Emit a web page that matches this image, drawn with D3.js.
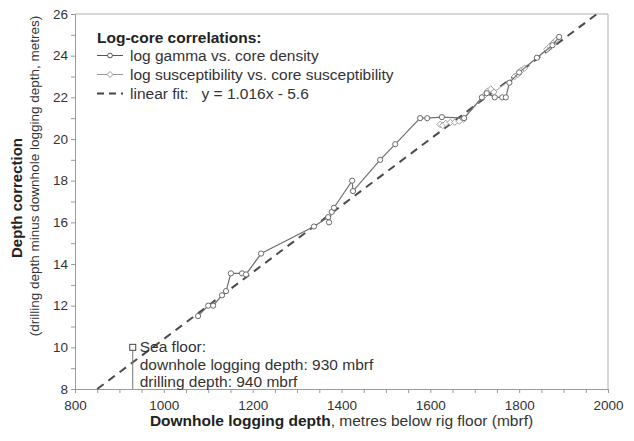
<!DOCTYPE html>
<html>
<head>
<meta charset="utf-8">
<script src="https://cdn.jsdelivr.net/npm/d3@7/dist/d3.min.js"></script>
<style>
  html, body { margin: 0; padding: 0; background: #fff; }
  svg { display: block; font-family: "Liberation Sans", Arial, sans-serif; }
</style>
</head>
<body>
<svg id="chart" width="634" height="441"></svg>
<script>
// ---- data ----
const gammaDepth = [1077, 1100, 1111, 1131, 1140, 1151, 1176, 1185, 1219, 1338, 1370, 1372, 1378, 1383, 1424, 1426, 1487, 1521, 1577, 1593, 1626, 1676, 1716, 1727, 1745, 1762, 1770, 1778, 1800, 1840, 1875, 1890];
const gammaCorr  = [11.5, 12.0, 12.0, 12.5, 12.7, 13.55, 13.55, 13.5, 14.5, 15.8, 16.25, 16.0, 16.5, 16.7, 18.0, 17.5, 19.0, 19.75, 21.0, 21.0, 21.05, 21.0, 22.0, 22.2, 22.0, 22.0, 22.0, 22.7, 23.2, 23.9, 24.5, 24.9];
const suscDepth  = [1622, 1628, 1635, 1645, 1655, 1665, 1675, 1722, 1729, 1736, 1743, 1790, 1797, 1805, 1812, 1862, 1869, 1876, 1883];
const suscCorr   = [20.7, 20.65, 20.75, 20.8, 20.8, 20.85, 20.95, 22.1, 22.3, 22.4, 22.25, 23.0, 23.1, 23.3, 23.4, 24.3, 24.45, 24.6, 24.75];
const fitSlope = 0.016, fitIntercept = -5.6;   // drilling = 1.016 * logging - 5.6
const fitRange = [850, 1975];
const seaFloor = {logging: 930, drilling: 940};
const xTickLabels = [800, 1000, 1200, 1400, 1600, 1800, 2000];
const yTickLabels = [8, 10, 12, 14, 16, 18, 20, 22, 24, 26];
const legendLabels = ["log gamma vs. core density", "log susceptibility vs. core susceptibility", "linear fit:   y = 1.016x - 5.6"];

// ---- layout ----
const svg = d3.select("#chart");
const m = {left: 75, right: 26, top: 14, bottom: 52};
const W = 634, H = 441;
const x = d3.scaleLinear().domain([800, 2000]).range([m.left, W - m.right]);
const y = d3.scaleLinear().domain([8, 26]).range([H - m.bottom, m.top]);
const axisCol = "#9a9a9a", textCol = "#333";
const FF = "Liberation Sans, Arial, sans-serif";

// frame (top & right)
svg.append("path")
  .attr("d", `M${x(800)},${y(26)}H${x(2000)}V${y(8)}`)
  .attr("fill", "none").attr("stroke", "#b0b0b0").attr("stroke-width", 1);

// x axis
const xAxis = svg.append("g").attr("transform", `translate(0,${y(8)})`)
  .call(d3.axisBottom(x).tickValues(d3.range(800, 2001, 50)).tickSizeOuter(0)
    .tickSize(4).tickFormat(d => xTickLabels.includes(d) ? d : ""));
xAxis.select(".domain").attr("stroke", axisCol);
xAxis.selectAll(".tick line").attr("stroke", axisCol);
xAxis.selectAll(".tick text").attr("fill", textCol).attr("font-size", 13.5).attr("dy", "1.05em")
  .attr("font-family", FF);

// y axis
const yAxis = svg.append("g").attr("transform", `translate(${x(800)},0)`)
  .call(d3.axisLeft(y).tickValues(d3.range(8, 26.01, 1)).tickSizeOuter(0)
    .tickSize(4).tickFormat(d => yTickLabels.includes(d) ? d : ""));
yAxis.select(".domain").attr("stroke", axisCol);
yAxis.selectAll(".tick line").attr("stroke", axisCol);
yAxis.selectAll(".tick text").attr("fill", textCol).attr("font-size", 13.5).attr("x", -7)
  .attr("font-family", FF);

// fit line
svg.append("line")
  .attr("x1", x(fitRange[0])).attr("y1", y(fitSlope * fitRange[0] + fitIntercept))
  .attr("x2", x(fitRange[1])).attr("y2", y(fitSlope * fitRange[1] + fitIntercept))
  .attr("stroke", "#4a4a4a").attr("stroke-width", 2).attr("stroke-dasharray", "8,6");

// series
const line = d3.line().x(d => x(d[0])).y(d => y(d[1]));
const suscPts = suscDepth.map((d, i) => [d, suscCorr[i]]);
const gammaPts = gammaDepth.map((d, i) => [d, gammaCorr[i]]);

svg.append("path").datum(suscPts).attr("d", line)
  .attr("fill", "none").attr("stroke", "#a8a8a8").attr("stroke-width", 1);
svg.append("g").selectAll("path").data(suscPts).join("path")
  .attr("transform", d => `translate(${x(d[0])},${y(d[1])})`)
  .attr("d", "M0,-3.2L3.2,0L0,3.2L-3.2,0Z")
  .attr("fill", "#fff").attr("stroke", "#a0a0a0").attr("stroke-width", 1);

svg.append("path").datum(gammaPts).attr("d", line)
  .attr("fill", "none").attr("stroke", "#707070").attr("stroke-width", 1.2);
svg.append("g").selectAll("circle").data(gammaPts).join("circle")
  .attr("cx", d => x(d[0])).attr("cy", d => y(d[1])).attr("r", 2.6)
  .attr("fill", "#fff").attr("stroke", "#6a6a6a").attr("stroke-width", 1);

// sea floor annotation
const sx = x(seaFloor.logging), sy = y(seaFloor.drilling - seaFloor.logging);
svg.append("line").attr("x1", sx).attr("x2", sx).attr("y1", sy + 3).attr("y2", y(8))
  .attr("stroke", "#777").attr("stroke-width", 1);
svg.append("rect").attr("x", sx - 3).attr("y", sy - 3).attr("width", 6).attr("height", 6)
  .attr("fill", "#fff").attr("stroke", "#444").attr("stroke-width", 1);
const sfText = ["Sea floor:", `downhole logging depth: ${seaFloor.logging} mbrf`, `drilling depth: ${seaFloor.drilling} mbrf`];
svg.append("g").selectAll("text").data(sfText).join("text")
  .attr("x", sx + 7).attr("y", (d, i) => sy + 5 + i * 17.5)
  .attr("font-size", 15.5).attr("fill", textCol).text(d => d);

// legend
const lg = svg.append("g");
lg.append("text").attr("x", 97).attr("y", 42.5).attr("font-size", 15.5).attr("font-weight", "bold")
  .attr("fill", "#222").text("Log-core correlations:");
const ly = [55.5, 74.5, 93.5];
lg.append("line").attr("x1", 97).attr("x2", 123).attr("y1", ly[0]).attr("y2", ly[0]).attr("stroke", "#555");
lg.append("circle").attr("cx", 110).attr("cy", ly[0]).attr("r", 2.4).attr("fill", "#fff").attr("stroke", "#555");
lg.append("line").attr("x1", 97).attr("x2", 123).attr("y1", ly[1]).attr("y2", ly[1]).attr("stroke", "#999");
lg.append("path").attr("transform", `translate(110,${ly[1]})`).attr("d", "M0,-3L3,0L0,3L-3,0Z")
  .attr("fill", "#fff").attr("stroke", "#999");
lg.append("line").attr("x1", 97).attr("x2", 123).attr("y1", ly[2]).attr("y2", ly[2])
  .attr("stroke", "#444").attr("stroke-width", 2).attr("stroke-dasharray", "7,5");
lg.selectAll("text.l").data(legendLabels).join("text").attr("class", "l")
  .attr("x", 130).attr("y", (d, i) => ly[i] + 5.5).attr("font-size", 15.5).attr("fill", textCol)
  .attr("xml:space", "preserve").style("white-space", "pre").text(d => d);

// axis titles
const xt = svg.append("text").attr("x", (x(800) + x(2000)) / 2).attr("y", 426)
  .attr("text-anchor", "middle").attr("font-size", 15.5).attr("fill", "#222");
xt.append("tspan").attr("font-weight", "bold").text("Downhole logging depth");
xt.append("tspan").attr("fill", textCol).text(", metres below rig floor (mbrf)");

svg.append("text").attr("transform", `translate(22,198) rotate(-90)`).attr("text-anchor", "middle")
  .attr("font-size", 15).attr("font-weight", "bold").attr("fill", "#222").text("Depth correction");
svg.append("text").attr("transform", `translate(39,176) rotate(-90)`).attr("text-anchor", "middle")
  .attr("font-size", 13.5).attr("fill", textCol).text("(drilling depth minus downhole logging depth, metres)");
</script>
</body>
</html>
